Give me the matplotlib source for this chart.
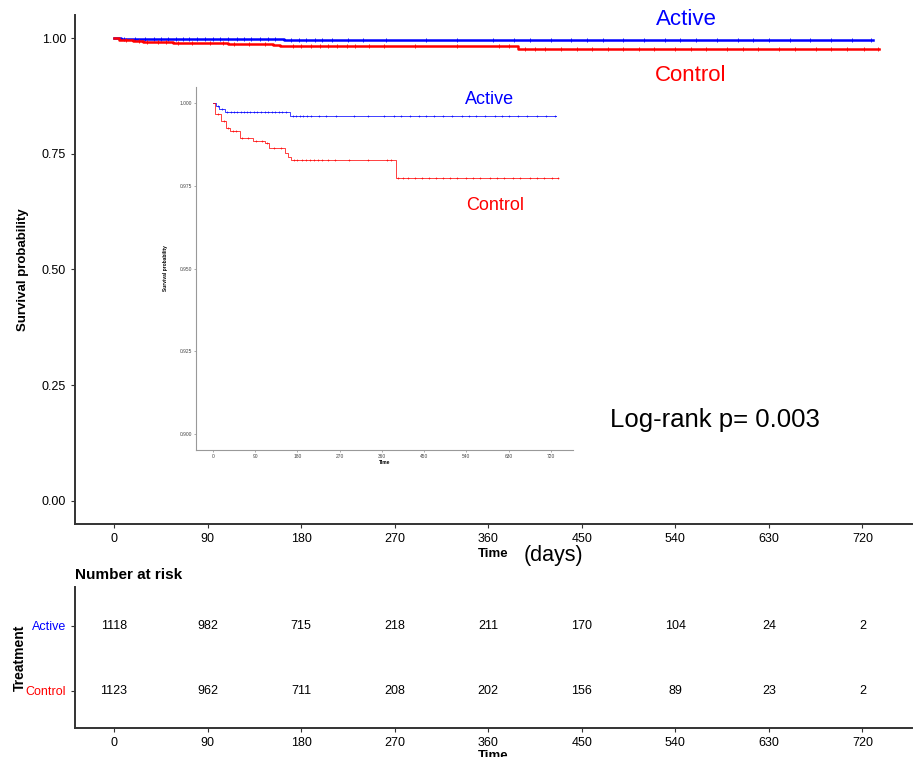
import numpy as np
import matplotlib
matplotlib.use("Agg")
import matplotlib.pyplot as plt

plt.rcParams["font.family"] = ["Liberation Sans", "DejaVu Sans"]

# ── data ───────────────────────────────────────────────────────
active_times = [0, 7, 14, 25, 164]
active_surv  = [1.0, 0.9991, 0.9982, 0.9973, 0.9960]
active_end   = 730

control_times = [0, 5, 18, 28, 36, 57, 85, 110, 120, 153, 160, 166, 389]
control_surv  = [1.0, 0.9965, 0.9945, 0.9924, 0.9914, 0.9894, 0.9886,
                 0.9879, 0.9864, 0.9849, 0.9837, 0.9828, 0.9774]
control_end   = 736

active_censor = [10, 20, 30, 38, 45, 52, 60, 66, 72, 80, 88, 95, 102, 110, 118,
                 125, 132, 140, 148, 155, 170, 178, 185, 193, 200, 210, 225,
                 240, 262, 300, 330, 365, 385, 400, 420, 440, 455, 470, 490,
                 510, 530, 545, 560, 580, 600, 615, 630, 650, 670, 690, 710, 728]
control_censor = [12, 24, 32, 42, 50, 62, 75, 92, 105, 115, 130, 145, 172, 180,
                  190, 198, 206, 215, 224, 232, 245, 260, 290, 330, 370, 380,
                  395, 405, 415, 430, 445, 460, 475, 490, 505, 520, 540, 555,
                  570, 590, 605, 620, 640, 655, 675, 690, 705, 722, 735]

risk_x       = [0, 90, 180, 270, 360, 450, 540, 630, 720]
risk_active  = [1118, 982, 715, 218, 211, 170, 104, 24, 2]
risk_control = [1123, 962, 711, 208, 202, 156, 89, 23, 2]

main_yticks  = [0.0, 0.25, 0.5, 0.75, 1.0]
inset_yticks = [0.900, 0.925, 0.950, 0.975, 1.000]

BLUE = "#0000FF"
RED = "#FF0000"


def draw_km(ax, times, surv, end, censor, color, lw, ms, alpha=1.0):
    t = list(times) + [end]
    s = list(surv) + [surv[-1]]
    ax.step(t, s, where="post", color=color, lw=lw, alpha=alpha)
    idx = np.searchsorted(times, censor, side="right") - 1
    ax.plot(censor, np.array(surv)[idx], ls="none", marker="+",
            color=color, ms=ms, mew=0.6, alpha=alpha)


fig = plt.figure(figsize=(9.14, 7.57), dpi=100)

# ── main KM panel ─────────────────────────────────────────────
ax = fig.add_axes([0.0821, 0.3078, 0.916, 0.6724])
draw_km(ax, active_times, active_surv, active_end, active_censor, BLUE, 1.8, 3.5)
draw_km(ax, control_times, control_surv, control_end, control_censor, RED, 1.8, 3.5)
ax.set_xlim(-37.5, 768)
ax.set_ylim(-0.05, 1.05)
ax.set_xticks(risk_x)
ax.set_yticks(main_yticks)
ax.set_yticklabels([f"{v:.2f}" for v in main_yticks])
ax.tick_params(labelsize=9, length=3, width=0.8, color="#333333")
for side in ["top", "right"]:
    ax.spines[side].set_visible(False)
for side in ["left", "bottom"]:
    ax.spines[side].set_linewidth(1.4)
    ax.spines[side].set_color("#333333")
ax.set_ylabel("Survival probability", fontsize=9.5, fontweight="bold", labelpad=9)
ax.set_xlabel("Time", fontsize=9.5, fontweight="bold", labelpad=2)
ax.text(551, 1.041, "Active", color=BLUE, fontsize=16, ha="center", va="center")
ax.text(555, 0.920, "Control", color=RED, fontsize=16, ha="center", va="center")
ax.text(578, 0.175, "Log-rank p= 0.003", fontsize=18.5, ha="center", va="center")
fig.text(553 / 914, 1 - 556 / 757, "(days)", fontsize=15.5, ha="center", va="center")

# ── zoomed inset ─────────────────────────────────────────────
ins = fig.add_axes([0.2144, 0.4055, 0.4125, 0.4796])
draw_km(ins, active_times, active_surv, active_end, active_censor, BLUE, 0.7, 1.5, 0.75)
draw_km(ins, control_times, control_surv, control_end, control_censor, RED, 0.7, 1.5, 0.75)
ins.set_xlim(-36, 767)
ins.set_ylim(0.8952, 1.0048)
ins.set_xticks(risk_x)
ins.set_yticks(inset_yticks)
ins.set_yticklabels([f"{v:.3f}" for v in inset_yticks])
ins.tick_params(labelsize=3.5, length=1.5, width=0.5, color="#888888",
                labelcolor="#444444", pad=1.5)
for side in ["top", "right"]:
    ins.spines[side].set_visible(False)
for side in ["left", "bottom"]:
    ins.spines[side].set_linewidth(0.8)
    ins.spines[side].set_color("#999999")
ins.set_ylabel("Survival probability", fontsize=3.5, fontweight="bold", labelpad=8)
ins.set_xlabel("Time", fontsize=3.5, fontweight="bold", labelpad=0.5)
ins.text(590, 1.0009, "Active", color=BLUE, fontsize=13, ha="center", va="center")
ins.text(601, 0.9689, "Control", color=RED, fontsize=13, ha="center", va="center")

# ── risk table ───────────────────────────────────────────────
tab = fig.add_axes([0.0821, 0.0383, 0.916, 0.1863])
for x, a, c in zip(risk_x, risk_active, risk_control):
    tab.text(x, 2, str(a), fontsize=9, ha="center", va="center")
    tab.text(x, 1, str(c), fontsize=9, ha="center", va="center")
tab.set_xlim(-37.5, 768)
tab.set_ylim(0.43, 2.6)
tab.set_xticks(risk_x)
tab.set_yticks([2, 1])
tab.set_yticklabels(["Active", "Control"])
for lbl, col in zip(tab.get_yticklabels(), [BLUE, RED]):
    lbl.set_color(col)
tab.tick_params(labelsize=9, length=3, width=0.8, color="#333333")
for side in ["top", "right"]:
    tab.spines[side].set_visible(False)
for side in ["left", "bottom"]:
    tab.spines[side].set_linewidth(1.4)
    tab.spines[side].set_color("#333333")
tab.set_ylabel("Treatment", fontsize=10, fontweight="bold", labelpad=-1)
tab.set_xlabel("Time", fontsize=9.5, fontweight="bold", labelpad=1)
tab.set_title("Number at risk", loc="left", fontsize=11, fontweight="bold", pad=6)

fig.savefig("out.png", dpi=100)
